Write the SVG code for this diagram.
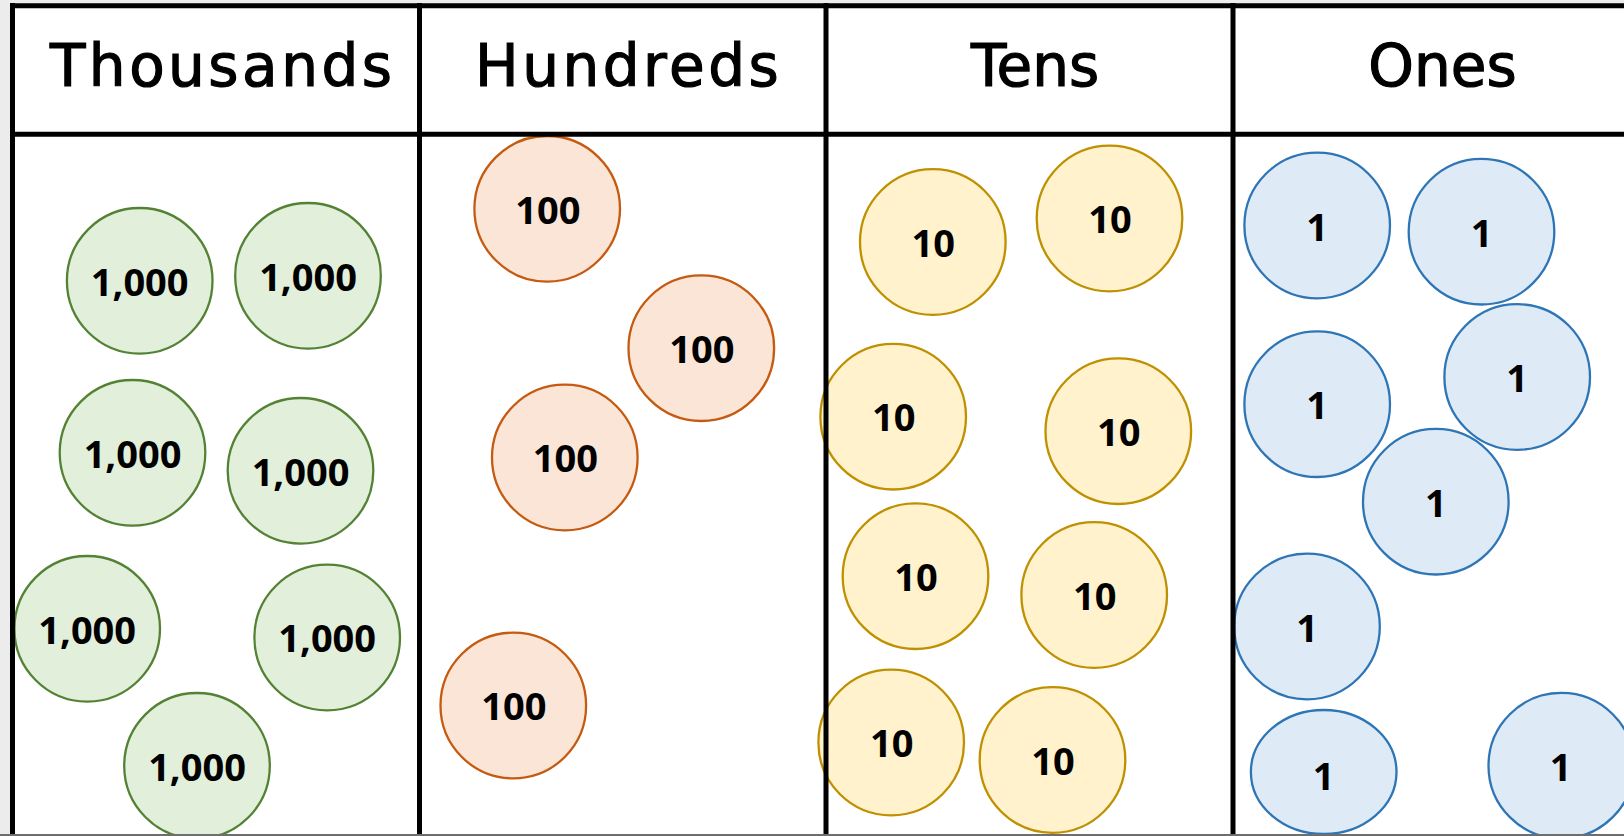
<svg xmlns="http://www.w3.org/2000/svg" width="1624" height="836" viewBox="0 0 1624 836">
  <style>
    .hdr { font-family: "DejaVu Sans", "Liberation Sans", sans-serif; font-size: 58px; fill: #000; stroke: #000; stroke-width: 1.2; text-anchor: middle; }
    .wide { letter-spacing: 3.5px; }
    .num { font-family: "Open Sans", "Liberation Sans", sans-serif; font-weight: 700; font-size: 38px; fill: #000; text-anchor: middle; }
    .th circle { fill: #e2efda; stroke: #548235; stroke-width: 2.3; }
    .hu circle { fill: #fbe5d6; stroke: #c55a11; stroke-width: 2.3; }
    .te circle { fill: #fff2cc; stroke: #bf9000; stroke-width: 2.3; }
    .on circle, .on ellipse { fill: #deebf7; stroke: #2e75b6; stroke-width: 2.3; }
    .grid line { stroke: #000; stroke-width: 5; }
  </style>
  <rect x="0" y="0" width="1624" height="836" fill="#ececec"/>
  <rect x="12" y="5" width="1620" height="840" fill="#ffffff"/>

  <g id="thousands">
    <g id="th1" class="th"><circle cx="139.7" cy="280.8" r="72.8"/><text class="num" x="139.7" y="295.5">1,000</text></g>
    <g id="th2" class="th"><circle cx="308" cy="275.8" r="72.8"/><text class="num" x="308" y="290.5">1,000</text></g>
    <g id="th3" class="th"><circle cx="132.5" cy="452.8" r="72.8"/><text class="num" x="132.5" y="467.5">1,000</text></g>
    <g id="th4" class="th"><circle cx="300.5" cy="470.8" r="72.8"/><text class="num" x="300.5" y="485.5">1,000</text></g>
    <g id="th5" class="th"><circle cx="87.2" cy="628.8" r="72.8"/><text class="num" x="87.2" y="643.5">1,000</text></g>
    <g id="th6" class="th"><circle cx="327.2" cy="637.5" r="72.8"/><text class="num" x="327.2" y="652.2">1,000</text></g>
    <g id="th7" class="th"><circle cx="197" cy="765.8" r="72.8"/><text class="num" x="197" y="780.5">1,000</text></g>
  </g>

  <g id="hundreds">
    <g id="hu1" class="hu"><circle cx="547.2" cy="208.8" r="72.8"/><text class="num" x="547.8" y="223.5">100</text></g>
    <g id="hu2" class="hu"><circle cx="701.3" cy="348.2" r="72.8"/><text class="num" x="701.8" y="362.9">100</text></g>
    <g id="hu3" class="hu"><circle cx="564.8" cy="457.5" r="72.8"/><text class="num" x="565.3" y="472.2">100</text></g>
    <g id="hu4" class="hu"><circle cx="513.3" cy="705.5" r="72.8"/><text class="num" x="513.8" y="720.2">100</text></g>
  </g>

  <g id="tens">
    <g id="te1" class="te"><circle cx="932.8" cy="242" r="72.8"/><text class="num" x="933.3" y="256.7">10</text></g>
    <g id="te2" class="te"><circle cx="1109.5" cy="218.5" r="72.8"/><text class="num" x="1110" y="233.2">10</text></g>
    <g id="te3" class="te"><circle cx="893.2" cy="416.7" r="72.8"/><text class="num" x="893.7" y="431.4">10</text></g>
    <g id="te4" class="te"><circle cx="1118.3" cy="431.2" r="72.8"/><text class="num" x="1118.8" y="445.9">10</text></g>
    <g id="te5" class="te"><circle cx="915.5" cy="576.2" r="72.8"/><text class="num" x="916" y="590.9">10</text></g>
    <g id="te6" class="te"><circle cx="1094.2" cy="595" r="72.8"/><text class="num" x="1094.7" y="609.7">10</text></g>
    <g id="te7" class="te"><circle cx="891.2" cy="742.5" r="72.8"/><text class="num" x="891.7" y="757.2">10</text></g>
    <g id="te8" class="te"><circle cx="1052.5" cy="760" r="72.8"/><text class="num" x="1053" y="774.7">10</text></g>
  </g>

  <g id="ones">
    <g id="on1" class="on"><circle cx="1317.2" cy="225.5" r="72.8"/><text class="num" x="1317.2" y="240.5">1</text></g>
    <g id="on2" class="on"><circle cx="1481.5" cy="231.7" r="72.8"/><text class="num" x="1481.5" y="246.7">1</text></g>
    <g id="on3" class="on"><circle cx="1317.2" cy="404.2" r="72.8"/><text class="num" x="1317.2" y="419.2">1</text></g>
    <g id="on4" class="on"><circle cx="1517.2" cy="377" r="72.8"/><text class="num" x="1517.2" y="392">1</text></g>
    <g id="on5" class="on"><circle cx="1435.8" cy="501.7" r="72.8"/><text class="num" x="1435.8" y="516.7">1</text></g>
    <g id="on6" class="on"><circle cx="1307" cy="626.5" r="72.8"/><text class="num" x="1307" y="641.5">1</text></g>
    <g id="on7" class="on"><ellipse cx="1323.7" cy="772" rx="72.8" ry="62"/><text class="num" x="1323.7" y="790">1</text></g>
    <g id="on8" class="on"><circle cx="1561.3" cy="765.7" r="72.8"/><text class="num" x="1560.5" y="781">1</text></g>
  </g>

  <g id="table-lines" class="grid">
    <line x1="10" y1="5.8" x2="1624" y2="5.8"/>
    <line x1="10" y1="134.3" x2="1624" y2="134.3"/>
    <line x1="12.5" y1="3" x2="12.5" y2="836"/>
    <line x1="419.5" y1="3" x2="419.5" y2="836"/>
    <line x1="826" y1="3" x2="826" y2="836"/>
    <line x1="1233" y1="3" x2="1233" y2="836"/>
  </g>

  <g id="headers">
    <text class="hdr wide" x="222.7" y="86">Thousands</text>
    <text class="hdr wide" x="628.7" y="86">Hundreds</text>
    <text class="hdr" x="1035" y="86">Tens</text>
    <text class="hdr" x="1442.5" y="86">Ones</text>
  </g>

  <rect x="0" y="834" width="1624" height="2" fill="#6e6e6e"/>
</svg>
